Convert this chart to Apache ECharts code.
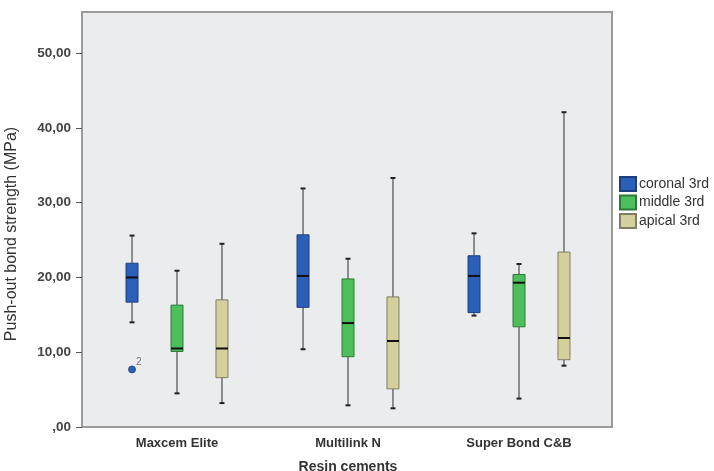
<!DOCTYPE html>
<html>
<head>
<meta charset="utf-8">
<script src="https://cdn.jsdelivr.net/npm/echarts@6.0.0/dist/echarts.min.js"></script>
<style>
  html, body { margin: 0; padding: 0; background: #fff; }
  #chart { width: 714px; height: 471px; }
</style>
</head>
<body>
<div id="chart"></div>
<script>
var cements = ['Maxcem Elite', 'Multilink N', 'Super Bond C&B']
var groups = ['coronal 3rd', 'middle 3rd', 'apical 3rd']
// [min, Q1, median, Q3, max] per cement
var coronal = [[14.0, 16.7, 20.0, 21.9, 25.6], [10.4, 16.0, 20.2, 25.7, 31.9], [14.9, 15.3, 20.2, 22.9, 25.9]]
var middle = [[4.5, 10.1, 10.5, 16.3, 20.9], [2.9, 9.4, 13.9, 19.8, 22.5], [3.8, 13.4, 19.3, 20.4, 21.8]]
var apical = [[3.2, 6.6, 10.5, 17.0, 24.5], [2.5, 5.1, 11.5, 17.4, 33.3], [8.2, 9.0, 11.9, 23.4, 42.1]]
// outliers
var outlierCement = [0]
var outlierGroup = [0]
var outlierValue = [7.7]
var outlierLabel = ['2']
var yTicks = [0, 10, 20, 30, 40, 50]

var fills = ['#2b5fb8', '#4cbf5c', '#d3d09c']
var strokes = ['#1d3f82', '#2d7a38', '#7f7d64']
var shifts = [-0.263, 0, 0.263]

var chart = echarts.init(document.getElementById('chart'))

function boxRender(gi) {
  return function (params, api) {
    var c = api.value(0)
    var band = api.size([1, 0])[0]
    var x = api.coord([c, 0])[0] + band * shifts[gi]
    var y = [1, 2, 3, 4, 5].map(function (d) {
      return api.coord([c, api.value(d)])[1]
    })
    var hw = 6
    var cap = 2.5
    var wl = { stroke: '#5a5a5a', lineWidth: 1.3 }
    var cl = { stroke: '#222', lineWidth: 2 }
    return {
      type: 'group',
      children: [
        { type: 'line', shape: { x1: x, y1: y[0], x2: x, y2: y[1] }, style: wl },
        { type: 'line', shape: { x1: x, y1: y[3], x2: x, y2: y[4] }, style: wl },
        { type: 'line', shape: { x1: x - cap, y1: y[0], x2: x + cap, y2: y[0] }, style: cl },
        { type: 'line', shape: { x1: x - cap, y1: y[4], x2: x + cap, y2: y[4] }, style: cl },
        {
          type: 'rect',
          shape: { x: x - hw, y: y[3], width: hw * 2, height: y[1] - y[3] },
          style: { fill: fills[gi], stroke: strokes[gi], lineWidth: 1 },
        },
        { type: 'line', shape: { x1: x - hw, y1: y[2], x2: x + hw, y2: y[2] }, style: { stroke: '#111', lineWidth: 2 } },
      ],
    }
  }
}

function outlierRender(params, api) {
  var c = api.value(0)
  var gi = api.value(1)
  var band = api.size([1, 0])[0]
  var p = api.coord([c, api.value(2)])
  var x = p[0] + band * shifts[gi]
  return {
    type: 'group',
    children: [
      { type: 'circle', shape: { cx: x, cy: p[1], r: 3.5 }, style: { fill: fills[gi], stroke: strokes[gi], lineWidth: 0.8 } },
      {
        type: 'text',
        x: x + 4,
        y: p[1] - 2,
        style: { text: outlierLabel[params.dataIndex], fill: '#777', fontSize: 10, fontFamily: 'Liberation Sans', textVerticalAlign: 'bottom' },
      },
    ],
  }
}

var groupData = [coronal, middle, apical]
var series = groupData.map(function (arr, gi) {
  return {
    name: groups[gi],
    type: 'custom',
    xAxisIndex: 1,
    yAxisIndex: 1,
    itemStyle: { color: fills[gi], borderColor: strokes[gi], borderWidth: 1 },
    encode: { x: 0, y: [1, 2, 3, 4, 5] },
    renderItem: boxRender(gi),
    data: arr.map(function (v, i) {
      return [i].concat(v)
    }),
  }
})
series.push({
  type: 'custom',
  xAxisIndex: 1,
  yAxisIndex: 1,
  encode: { x: 0, y: 2 },
  renderItem: outlierRender,
  data: outlierValue.map(function (v, i) {
    return [outlierCement[i], outlierGroup[i], v]
  }),
})

var option = {
  animation: false,
  backgroundColor: '#fff',
  grid: [
    {
      left: 82, top: 12, width: 530, height: 415, outerBoundsMode: 'none',
      show: true, backgroundColor: '#ebeced', borderColor: '#9a9a9a', borderWidth: 2,
    },
    { left: 91.5, top: 12, width: 513, height: 415, outerBoundsMode: 'none' },
  ],
  xAxis: [
    { gridIndex: 0, type: 'category', data: cements, show: false },
    {
      gridIndex: 1,
      type: 'category',
      data: cements,
      axisLine: { show: false },
      axisTick: { alignWithLabel: true, length: 7, lineStyle: { color: '#555' } },
      axisLabel: { color: '#333', fontSize: 13, fontWeight: 'bold', fontFamily: 'Liberation Sans', margin: 10 },
      name: 'Resin cements',
      nameLocation: 'middle',
      nameGap: 33,
      nameTextStyle: { color: '#333', fontSize: 14, fontWeight: 'bold', fontFamily: 'Liberation Sans' },
    },
  ],
  yAxis: [
    {
      gridIndex: 0,
      type: 'value',
      min: 0,
      max: 55.5,
      axisLine: { show: false },
      splitLine: { show: false },
      axisTick: { show: true, length: 6, customValues: yTicks, lineStyle: { color: '#555' } },
      axisLabel: {
        customValues: yTicks,
        color: '#444',
        fontSize: 13.5,
        fontWeight: 'bold',
        fontFamily: 'Liberation Sans',
        margin: 11,
        formatter: function (v) {
          return v === 0 ? ',00' : v.toFixed(2).replace('.', ',')
        },
      },
    },
    { gridIndex: 1, type: 'value', min: 0, max: 55.5, show: false },
  ],
  legend: {
    orient: 'vertical',
    left: 614,
    top: 171,
    itemWidth: 16,
    itemHeight: 14,
    itemGap: 2.5,
    icon: 'rect',
    data: groups,
    textStyle: { color: '#333', fontSize: 14, fontFamily: 'Liberation Sans', padding: [0, 0, 0, -2] },
  },
  graphic: [
    {
      type: 'text',
      x: 12,
      y: 234,
      rotation: Math.PI / 2,
      style: {
        text: 'Push-out bond strength (MPa)',
        fill: '#333',
        fontSize: 16,
        fontFamily: 'Liberation Sans',
        textAlign: 'center',
        textVerticalAlign: 'middle',
      },
    },
  ],
  series: series,
}
chart.setOption(option)
</script>
</body>
</html>
